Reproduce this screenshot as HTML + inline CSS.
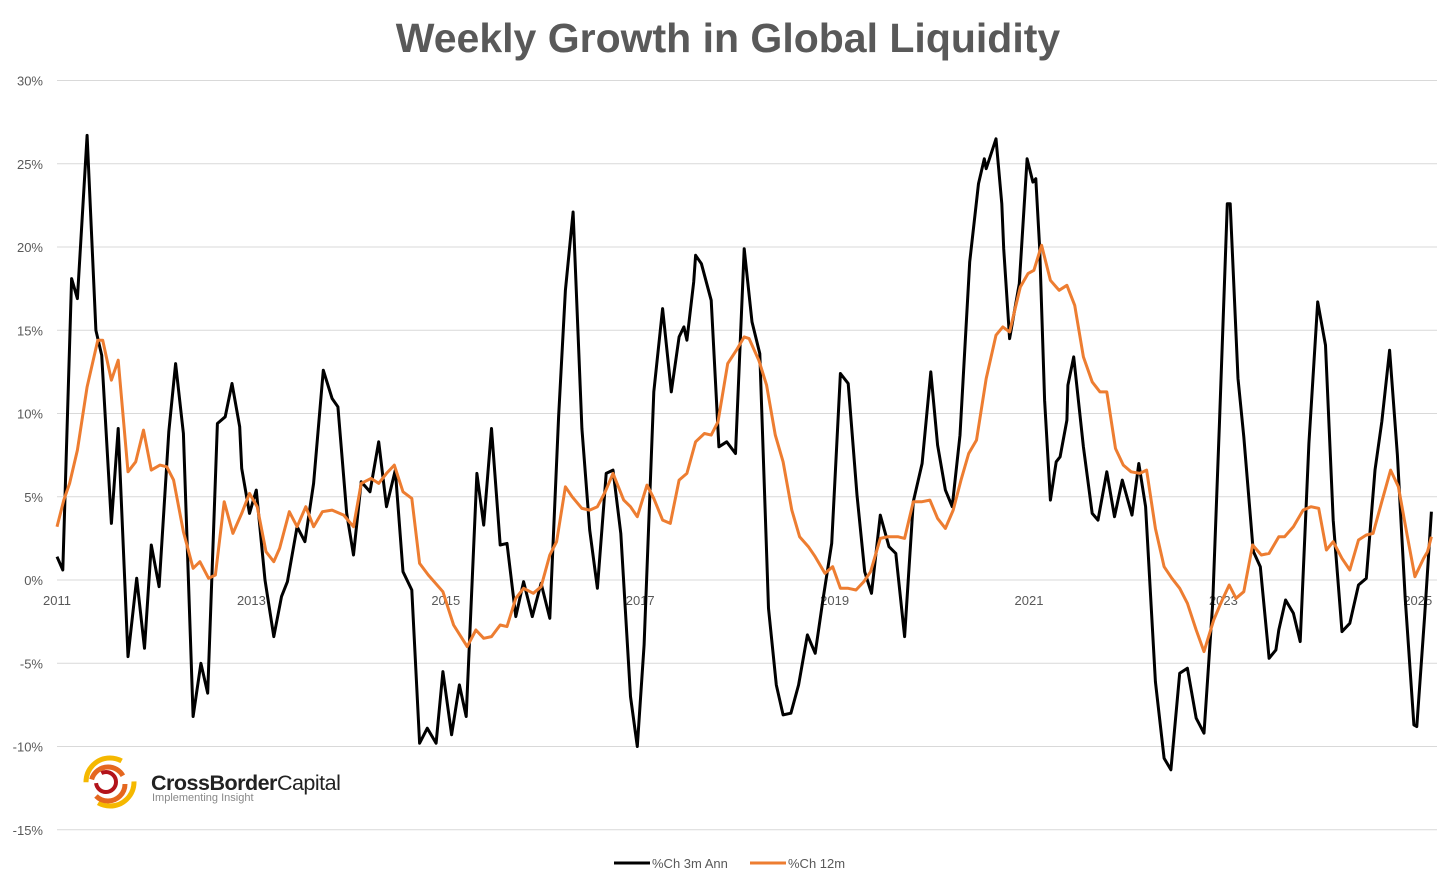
<!DOCTYPE html>
<html><head><meta charset="utf-8"><style>
body{margin:0;background:#fff;width:1456px;height:889px;overflow:hidden;font-family:"Liberation Sans",sans-serif}
svg{position:absolute;left:0;top:0}
</style></head><body>
<svg id="chart" width="1456" height="889" viewBox="0 0 1456 889">
<text x="728" y="52" text-anchor="middle" font-size="41" font-weight="bold" fill="#595959">Weekly Growth in Global Liquidity</text>
<g id="grid"></g>
<g id="ylabels"></g>
<g id="xlabels"></g>
<g id="series"></g>
<g>
<rect x="70" y="748" width="285" height="66" fill="#fff"/>
<circle cx="110" cy="782" r="24" fill="none" stroke="#f5b800" stroke-width="5" stroke-dasharray="50 25"/>
<circle cx="108" cy="784" r="17" fill="none" stroke="#e5671f" stroke-width="5" stroke-dasharray="40 18"/>
<circle cx="106" cy="782" r="10" fill="none" stroke="#b3131b" stroke-width="4" stroke-dasharray="30 12"/>
<text x="151" y="790" font-size="21.5" fill="#222" letter-spacing="-0.5"><tspan font-weight="bold">CrossBorder</tspan>Capital</text>
<text x="152" y="801" font-size="11" fill="#888">Implementing Insight</text>
</g>
<g>
<line x1="614" y1="863" x2="650" y2="863" stroke="#000" stroke-width="3"/>
<text x="652" y="868" font-size="13" fill="#595959">%Ch 3m Ann</text>
<line x1="750" y1="863" x2="786" y2="863" stroke="#ED7D31" stroke-width="3"/>
<text x="788" y="868" font-size="13" fill="#595959">%Ch 12m</text>
</g>
</svg>
<script>
const yTicks=[30,25,20,15,10,5,0,-5,-10,-15];
const xTickYears=[2011,2013,2015,2017,2019,2021,2023,2025];
const blackYears=[2011.00,2011.06,2011.15,2011.21,2011.31,2011.40,2011.46,2011.56,2011.63,2011.73,2011.82,2011.90,2011.97,2012.05,2012.15,2012.22,2012.30,2012.40,2012.48,2012.55,2012.65,2012.73,2012.80,2012.88,2012.90,2012.98,2013.05,2013.14,2013.23,2013.31,2013.37,2013.47,2013.55,2013.64,2013.74,2013.83,2013.89,2013.98,2014.05,2014.13,2014.22,2014.31,2014.39,2014.48,2014.56,2014.65,2014.73,2014.81,2014.90,2014.97,2015.06,2015.14,2015.21,2015.32,2015.39,2015.47,2015.56,2015.63,2015.72,2015.80,2015.89,2015.98,2016.07,2016.16,2016.23,2016.31,2016.40,2016.48,2016.56,2016.65,2016.72,2016.80,2016.90,2016.97,2017.04,2017.14,2017.23,2017.32,2017.40,2017.45,2017.48,2017.55,2017.57,2017.63,2017.73,2017.81,2017.89,2017.98,2018.07,2018.15,2018.23,2018.32,2018.40,2018.47,2018.55,2018.63,2018.72,2018.80,2018.88,2018.97,2019.06,2019.14,2019.23,2019.31,2019.38,2019.47,2019.56,2019.63,2019.72,2019.81,2019.90,2019.99,2020.06,2020.14,2020.21,2020.29,2020.39,2020.48,2020.54,2020.56,2020.66,2020.72,2020.74,2020.80,2020.90,2020.98,2021.04,2021.07,2021.11,2021.16,2021.22,2021.28,2021.32,2021.39,2021.40,2021.46,2021.56,2021.65,2021.71,2021.80,2021.88,2021.96,2022.06,2022.13,2022.20,2022.30,2022.39,2022.46,2022.55,2022.63,2022.72,2022.80,2022.89,2022.96,2023.04,2023.07,2023.15,2023.21,2023.30,2023.31,2023.38,2023.47,2023.54,2023.57,2023.64,2023.72,2023.79,2023.88,2023.97,2024.05,2024.13,2024.22,2024.30,2024.39,2024.47,2024.56,2024.63,2024.71,2024.79,2024.87,2024.96,2024.99,2025.07,2025.14];
const blackValues=[1.4,0.6,18.1,16.9,26.7,15.0,13.5,3.4,9.1,-4.6,0.1,-4.1,2.1,-0.4,8.9,13.0,8.8,-8.2,-5.0,-6.8,9.4,9.8,11.8,9.2,6.7,4.0,5.4,0.0,-3.4,-1.0,-0.1,3.2,2.3,5.8,12.6,10.9,10.4,4.0,1.5,5.9,5.3,8.3,4.4,6.6,0.5,-0.6,-9.8,-8.9,-9.8,-5.5,-9.3,-6.3,-8.2,6.4,3.3,9.1,2.1,2.2,-2.2,-0.1,-2.2,-0.2,-2.3,9.8,17.4,22.1,9.1,3.0,-0.5,6.4,6.6,2.8,-7.0,-10.0,-3.9,11.3,16.3,11.3,14.6,15.2,14.4,17.9,19.5,19.0,16.8,8.0,8.3,7.6,19.9,15.5,13.6,-1.7,-6.3,-8.1,-8.0,-6.3,-3.3,-4.4,-1.2,2.2,12.4,11.8,5.1,0.5,-0.8,3.9,2.0,1.6,-3.4,4.7,7.0,12.5,8.1,5.4,4.4,8.7,19.1,23.8,25.3,24.7,26.5,22.6,19.9,14.5,17.8,25.3,23.9,24.1,19.9,10.8,4.8,7.1,7.4,9.6,11.7,13.4,8.0,4.0,3.6,6.5,3.8,6.0,3.9,7.0,4.4,-6.1,-10.7,-11.4,-5.6,-5.3,-8.3,-9.2,-1.4,9.5,22.6,22.6,12.1,8.6,2.2,1.7,0.8,-4.7,-4.2,-3.0,-1.2,-2.0,-3.7,8.2,16.7,14.1,3.6,-3.1,-2.6,-0.3,0.1,6.6,9.5,13.8,7.5,-1.1,-8.7,-8.8,-2.2,4.1];
const orangeYears=[2011.00,2011.07,2011.13,2011.21,2011.31,2011.42,2011.47,2011.56,2011.63,2011.73,2011.81,2011.89,2011.97,2012.06,2012.13,2012.20,2012.30,2012.40,2012.47,2012.56,2012.63,2012.72,2012.81,2012.90,2012.98,2013.06,2013.15,2013.23,2013.29,2013.39,2013.47,2013.56,2013.64,2013.73,2013.83,2013.95,2014.05,2014.13,2014.23,2014.31,2014.39,2014.47,2014.56,2014.65,2014.73,2014.82,2014.97,2015.08,2015.22,2015.31,2015.39,2015.47,2015.56,2015.63,2015.72,2015.80,2015.90,2015.98,2016.07,2016.14,2016.23,2016.30,2016.40,2016.48,2016.56,2016.64,2016.72,2016.83,2016.90,2016.97,2017.07,2017.14,2017.23,2017.31,2017.40,2017.48,2017.57,2017.66,2017.73,2017.80,2017.90,2017.99,2018.07,2018.12,2018.22,2018.30,2018.39,2018.47,2018.56,2018.64,2018.73,2018.80,2018.90,2018.98,2019.06,2019.14,2019.22,2019.30,2019.37,2019.47,2019.55,2019.65,2019.72,2019.81,2019.90,2019.98,2020.06,2020.14,2020.22,2020.30,2020.38,2020.46,2020.56,2020.66,2020.73,2020.80,2020.91,2020.99,2021.05,2021.13,2021.22,2021.28,2021.31,2021.39,2021.47,2021.56,2021.65,2021.73,2021.80,2021.89,2021.97,2022.05,2022.14,2022.21,2022.30,2022.39,2022.47,2022.55,2022.63,2022.72,2022.80,2022.90,2022.98,2023.06,2023.13,2023.21,2023.30,2023.39,2023.47,2023.57,2023.63,2023.72,2023.82,2023.90,2023.98,2024.06,2024.13,2024.22,2024.30,2024.39,2024.47,2024.54,2024.63,2024.72,2024.80,2024.89,2024.97,2025.06,2025.10,2025.14];
const orangeValues=[3.2,4.8,5.8,7.8,11.6,14.4,14.4,12.0,13.2,6.5,7.1,9.0,6.6,6.9,6.8,6.0,2.9,0.7,1.1,0.1,0.3,4.7,2.8,4.0,5.2,4.4,1.7,1.1,1.9,4.1,3.2,4.4,3.2,4.1,4.2,3.9,3.2,5.8,6.1,5.8,6.4,6.9,5.3,4.9,1.0,0.3,-0.7,-2.7,-4.0,-3.0,-3.5,-3.4,-2.7,-2.8,-1.1,-0.5,-0.8,-0.4,1.5,2.3,5.6,5.0,4.3,4.2,4.4,5.3,6.4,4.8,4.4,3.8,5.7,4.9,3.6,3.4,6.0,6.4,8.3,8.8,8.7,9.5,13.0,13.8,14.6,14.5,13.2,11.7,8.7,7.1,4.2,2.6,2.0,1.4,0.4,0.8,-0.5,-0.5,-0.6,-0.1,0.5,2.5,2.6,2.6,2.5,4.7,4.7,4.8,3.7,3.1,4.2,6.0,7.6,8.4,12.1,14.7,15.2,14.9,17.6,18.4,18.6,20.1,18.0,17.6,17.4,17.7,16.5,13.4,11.9,11.3,11.3,7.9,6.9,6.5,6.4,6.6,3.1,0.8,0.1,-0.5,-1.4,-3.0,-4.3,-2.4,-1.3,-0.3,-1.1,-0.7,2.1,1.5,1.6,2.6,2.6,3.2,4.2,4.4,4.3,1.8,2.3,1.3,0.6,2.4,2.7,2.8,4.7,6.6,5.6,2.7,0.2,1.3,1.7,2.6];

const NS='http://www.w3.org/2000/svg';
const X0=57,X1=1437;
function xScale(yr){return 57+(yr-2011)*97.2;}
function yScale(v){return 580-v*16.65;}
const grid=document.getElementById('grid'),yl=document.getElementById('ylabels'),xl=document.getElementById('xlabels'),ser=document.getElementById('series');
yTicks.forEach(t=>{
  const l=document.createElementNS(NS,'line');
  
  
  l.setAttribute('x1',X0);l.setAttribute('x2',X1);l.setAttribute('y1',yScale(t));l.setAttribute('y2',yScale(t));
  l.setAttribute('stroke','#d9d9d9');l.setAttribute('stroke-width','1');
  grid.appendChild(l);
  const tx=document.createElementNS(NS,'text');
  
  
  tx.setAttribute('x',43);tx.setAttribute('y',yScale(t)+5);tx.setAttribute('text-anchor','end');
  tx.setAttribute('font-size','13');tx.setAttribute('fill','#595959');
  tx.textContent=t+'%';yl.appendChild(tx);
});
xTickYears.forEach(y=>{
  const tx=document.createElementNS(NS,'text');
  
  
  tx.setAttribute('x',xScale(y));tx.setAttribute('y',605);tx.setAttribute('text-anchor','middle');
  tx.setAttribute('font-size','13');tx.setAttribute('fill','#595959');
  tx.textContent=y;xl.appendChild(tx);
});
function line(years,vals,color,name){
  const p=document.createElementNS(NS,'polyline');
  
  
  p.setAttribute('points',years.map((y,i)=>xScale(y).toFixed(1)+','+yScale(vals[i]).toFixed(1)).join(' '));
  p.setAttribute('fill','none');p.setAttribute('stroke',color);p.setAttribute('stroke-width','3');
  p.setAttribute('stroke-linejoin','round');
  ser.appendChild(p);
}
line(blackYears,blackValues,'#000','series-3m-ann');
line(orangeYears,orangeValues,'#ED7D31','series-12m');
</script>
</body></html>
